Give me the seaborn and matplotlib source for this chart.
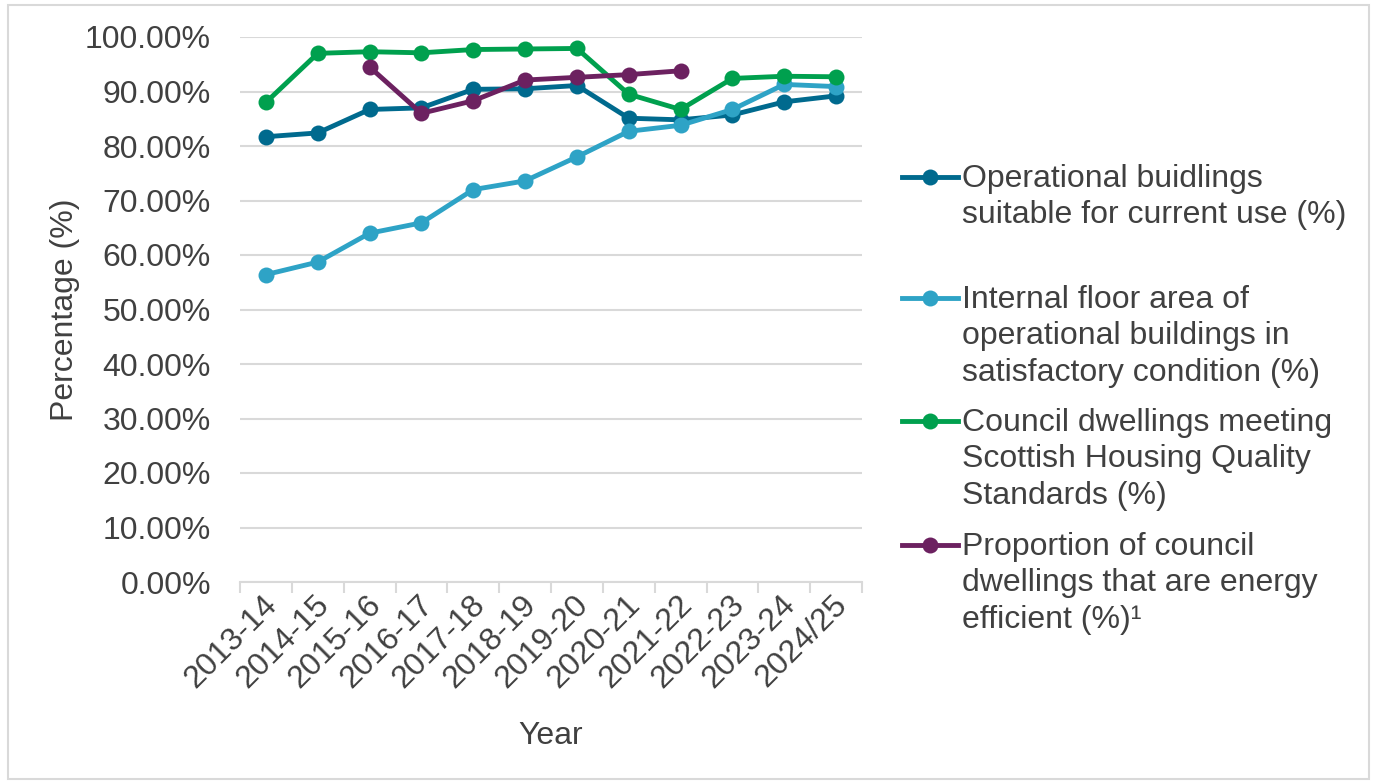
import numpy as np
import pandas as pd
import matplotlib
matplotlib.use("Agg")
import matplotlib.pyplot as plt
import matplotlib.transforms as mtrans
import seaborn as sns
from matplotlib.lines import Line2D
from matplotlib.patches import Rectangle

YEARS = ["2013-14", "2014-15", "2015-16", "2016-17", "2017-18", "2018-19",
         "2019-20", "2020-21", "2021-22", "2022-23", "2023-24", "2024/25"]

operational = [81.7, 82.4, 86.7, 87.0, 90.4, 90.5, 91.1, 85.1, 84.8, 85.7, 88.1, 89.2]
floor_area = [56.4, 58.7, 64.0, 65.9, 72.0, 73.6, 78.0, 82.7, 83.8, 86.7, 91.3, 90.9]
shqs = [88.0, 97.0, 97.3, 97.1, 97.7, 97.8, 97.9, 89.5, 86.7, 92.4, 92.8, 92.7]
energy = [np.nan, np.nan, 94.5, 86.0, 88.3, 92.1, 92.6, 93.1, 93.8, np.nan, np.nan, np.nan]

SERIES = {
    "Operational buidlings\nsuitable for current use (%)": operational,
    "Internal floor area of\noperational buildings in\nsatisfactory condition (%)": floor_area,
    "Council dwellings meeting\nScottish Housing Quality\nStandards (%)": shqs,
    "Proportion of council\ndwellings that are energy\nefficient (%)\u00b9": energy,
}
COLORS = ["#006A8E", "#2EA3C6", "#00A04E", "#6C2160"]
TEXT = "#404040"
GRID = "#D9D9D9"
FS = 23

# long format for seaborn
rows = []
for name, vals in SERIES.items():
    for i, v in enumerate(vals):
        rows.append({"series": name, "x": i, "value": v})
df = pd.DataFrame(rows).dropna()

plt.rcParams["font.family"] = ["Liberation Sans", "DejaVu Sans"]

fig = plt.figure(figsize=(13.75, 7.84), dpi=100)
W, H = 1375, 784
ax = fig.add_axes([240 / W, 1 - 582 / H, 622 / W, 545 / H])

sns.lineplot(df, x="x", y="value", hue="series", hue_order=list(SERIES),
             palette=COLORS, marker="o", markersize=11.5, markeredgewidth=0,
             linewidth=3.5, errorbar=None, legend=False, ax=ax)

ax.set_xlim(-0.5, len(YEARS) - 0.5)
ax.set_ylim(0, 100)
ax.set_yticks(np.arange(0, 101, 10))
ax.set_yticklabels([f"{v:.2f}%" for v in np.arange(0, 101, 10)])
ax.set_xticks(range(len(YEARS)))
ax.set_xticklabels(YEARS, rotation=45, ha="right", va="center", rotation_mode="anchor")
ax.set_xticks(np.arange(-0.5, len(YEARS)), minor=True)
ax.tick_params(axis="x", which="major", length=0, pad=13, labelsize=FS, labelcolor=TEXT)
ax.tick_params(axis="x", which="minor", length=8, width=1.5, color=GRID)
ax.tick_params(axis="y", length=0, pad=21, labelsize=FS, labelcolor=TEXT)
# nudge the slanted year labels a little to the right, as in the original
shift = mtrans.ScaledTranslation(7 / 100, 0, fig.dpi_scale_trans)
for lab in ax.get_xticklabels():
    lab.set_transform(lab.get_transform() + shift)

ax.yaxis.grid(True, color=GRID, linewidth=1.5)
ax.set_axisbelow(True)
for s in ["top", "right", "left"]:
    ax.spines[s].set_visible(False)
ax.spines["bottom"].set_color(GRID)
ax.spines["bottom"].set_linewidth(1.5)

ax.set_xlabel("Year", fontsize=FS, color=TEXT)
ax.set_ylabel("Percentage (%)", fontsize=FS, color=TEXT)
ax.xaxis.set_label_coords(0.5, -0.255)
ax.yaxis.set_label_coords(-0.258, 0.5)

# legend, Excel style: marker line beside the first text line
leg_y = [177, 298, 421, 545]
for (name, _), color, y in zip(SERIES.items(), COLORS, leg_y):
    fy = 1 - y / H
    fig.add_artist(Line2D([902 / W, 958 / W], [fy, fy], transform=fig.transFigure,
                          color=color, linewidth=3.5))
    fig.add_artist(Line2D([930 / W], [fy], transform=fig.transFigure, color=color,
                          marker="o", markersize=11.5, markeredgewidth=0))
    fig.text(962 / W, 1 - (y - 13) / H, name, fontsize=FS, color=TEXT, va="top",
             ha="left", linespacing=1.28, transform=fig.transFigure)

# thin frame around the chart
fig.add_artist(Rectangle((8 / W, 5 / H), 1361 / W, 774 / H, transform=fig.transFigure,
                         fill=False, edgecolor=GRID, linewidth=1.5))

fig.savefig("out.png", dpi=100)
